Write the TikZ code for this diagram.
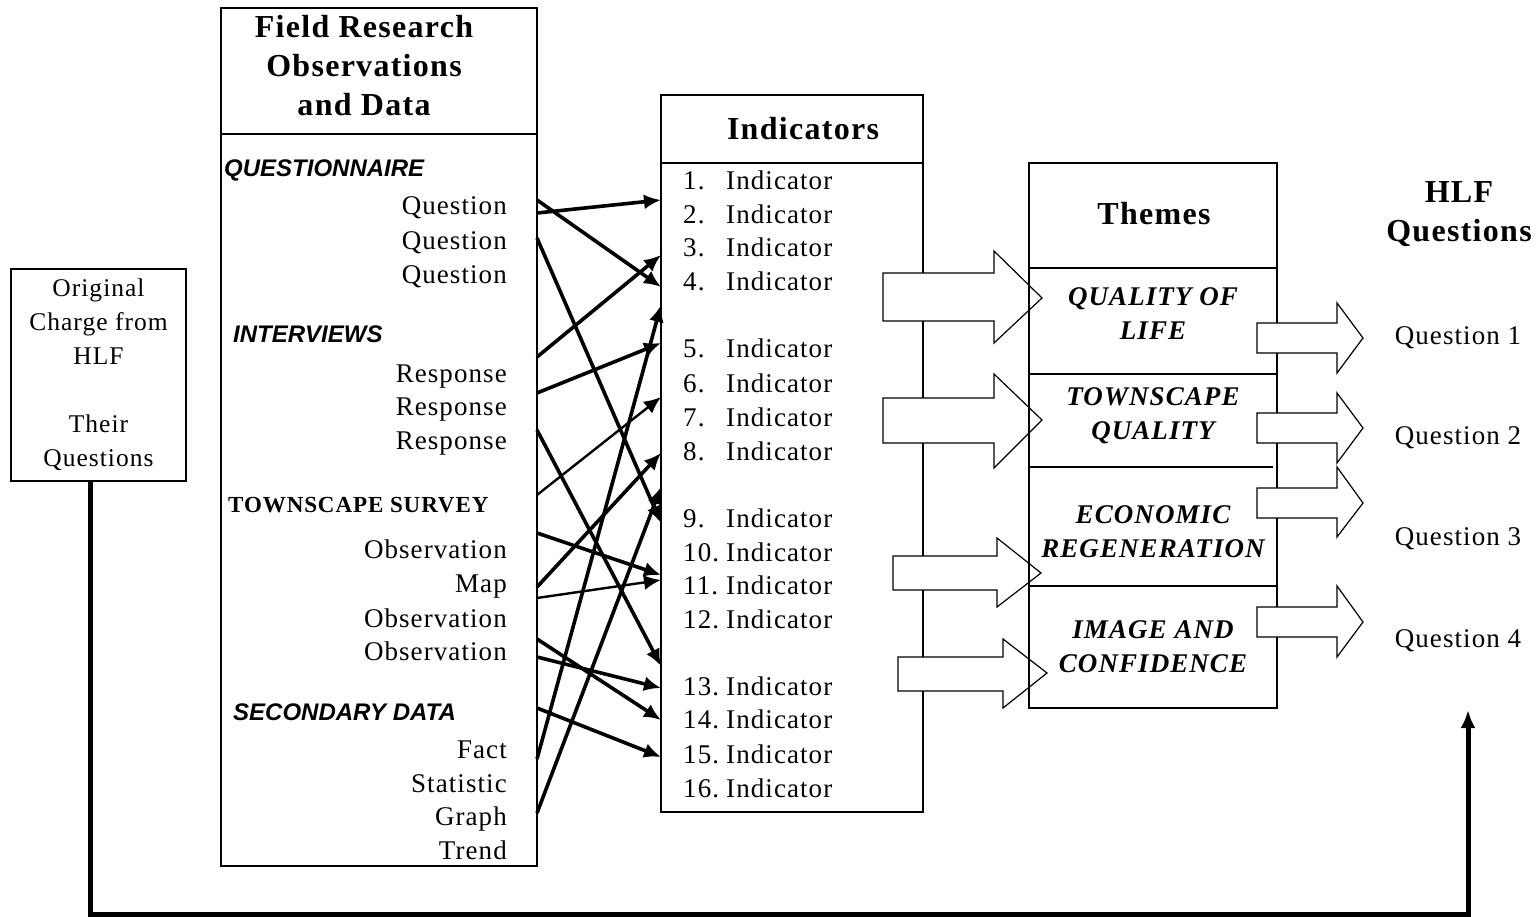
\documentclass[tikz,border=0pt]{standalone}
\usepackage{fontspec}
\setmainfont{Liberation Serif}[LetterSpace=4]
\newfontfamily\headfont{Liberation Sans}
\usetikzlibrary{arrows.meta}

\newcommand{\bodysize}{\fontsize{27}{34}\selectfont}
\newcommand{\origsize}{\fontsize{25.5}{34}\selectfont}
\newcommand{\titlesize}{\fontsize{32}{39}\selectfont\bfseries}
\newcommand{\sectsize}{\headfont\fontsize{24}{28}\selectfont\bfseries\itshape}
\newcommand{\themesize}{\fontsize{27}{34}\selectfont\bfseries\itshape}

\tikzstyle{panel}=[draw,black,line width=1.3pt,inner sep=0pt]
\tikzstyle{rule}=[black,line width=1.3pt]
\tikzstyle{headtext}=[font=\titlesize,align=center,inner sep=0pt]
\tikzstyle{heading}=[font=\sectsize,anchor=base west,inner sep=0pt]
\tikzstyle{entry}=[font=\bodysize,anchor=base east,inner sep=0pt]
\tikzstyle{indic}=[font=\bodysize,anchor=base west,inner sep=0pt]
\tikzstyle{theme}=[font=\themesize,align=center,inner sep=0pt]
\tikzstyle{link}=[line width=3.6pt,-{Latex[length=17pt,width=15pt]}]
\tikzstyle{block}=[draw,black,line width=1.2pt,fill=white]
\tikzstyle{feedback}=[line width=5pt,-{Latex[length=18pt,width=15pt]}]

\begin{document}
\begin{tikzpicture}[x=1pt,y=-1pt]
    \useasboundingbox (0,0) rectangle (1537,917);

    % boxes
    \node (orig)[panel,minimum width=175pt,minimum height=212pt,align=center,font=\origsize] at (98.5,375) {Original\\Charge from\\HLF\\[34pt]Their\\Questions};
    \node (fbox)[panel,minimum width=316pt,minimum height=858pt] at (379,437) {};
    \node (ibox)[panel,minimum width=262pt,minimum height=717pt] at (792,453.5) {};
    \draw[rule] (221,134) -- (537,134);
    \draw[rule] (661,163) -- (923,163);

    % field research column
    \node (ftitle)[headtext] at (364,66) {Field Research\\Observations\\and Data};
    \node (quest)[heading] at (224,177) {QUESTIONNAIRE};
    \node (q1)[entry] at (507,215) {Question};
    \node (q2)[entry] at (507,250) {Question};
    \node (q3)[entry] at (507,284) {Question};
    \node (interv)[heading] at (233,343) {INTERVIEWS};
    \node (r1)[entry] at (507,382) {Response};
    \node (r2)[entry] at (507,415) {Response};
    \node (r3)[entry] at (507,449) {Response};
    \node (survey)[anchor=base west,inner sep=0pt,font=\fontsize{23}{28}\selectfont\bfseries] at (228,512) {TOWNSCAPE SURVEY};
    \node (o1)[entry] at (507,558) {Observation};
    \node (map)[entry] at (507,592) {Map};
    \node (o2)[entry] at (507,627) {Observation};
    \node (o3)[entry] at (507,660) {Observation};
    \node (second)[heading] at (233,720) {SECONDARY DATA};
    \node (fact)[entry] at (507,758) {Fact};
    \node (stat)[entry] at (507,792) {Statistic};
    \node (graph)[entry] at (507,825) {Graph};
    \node (trend)[entry] at (507,859) {Trend};

    % indicators column
    \node (ititle)[headtext] at (803,129) {Indicators};
    \node (ind1)[indic] at (683,190) {\makebox[43pt][l]{1.}Indicator};
    \node (ind2)[indic] at (683,224) {\makebox[43pt][l]{2.}Indicator};
    \node (ind3)[indic] at (683,257) {\makebox[43pt][l]{3.}Indicator};
    \node (ind4)[indic] at (683,291) {\makebox[43pt][l]{4.}Indicator};
    \node (ind5)[indic] at (683,358) {\makebox[43pt][l]{5.}Indicator};
    \node (ind6)[indic] at (683,392) {\makebox[43pt][l]{6.}Indicator};
    \node (ind7)[indic] at (683,426) {\makebox[43pt][l]{7.}Indicator};
    \node (ind8)[indic] at (683,460) {\makebox[43pt][l]{8.}Indicator};
    \node (ind9)[indic] at (683,527) {\makebox[43pt][l]{9.}Indicator};
    \node (ind10)[indic] at (683,561) {\makebox[43pt][l]{10.}Indicator};
    \node (ind11)[indic] at (683,594) {\makebox[43pt][l]{11.}Indicator};
    \node (ind12)[indic] at (683,628) {\makebox[43pt][l]{12.}Indicator};
    \node (ind13)[indic] at (683,695) {\makebox[43pt][l]{13.}Indicator};
    \node (ind14)[indic] at (683,728) {\makebox[43pt][l]{14.}Indicator};
    \node (ind15)[indic] at (683,763) {\makebox[43pt][l]{15.}Indicator};
    \node (ind16)[indic] at (683,797) {\makebox[43pt][l]{16.}Indicator};

    % arrow ends
    \coordinate (s1) at (537,200);  \coordinate (e1) at (661,287);
    \coordinate (s2) at (537,213);  \coordinate (e2) at (661,200);
    \coordinate (s3) at (537,238);  \coordinate (e3) at (661,523);
    \coordinate (s4) at (537,357);  \coordinate (e4) at (661,255);
    \coordinate (s5) at (537,393);  \coordinate (e5) at (661,343);
    \coordinate (s6) at (537,430);  \coordinate (e6) at (661,666);
    \coordinate (s7) at (537,495);  \coordinate (e7) at (661,397);
    \coordinate (s8) at (537,533);  \coordinate (e8) at (661,575);
    \coordinate (s9) at (537,587);  \coordinate (e9) at (661,453);
    \coordinate (s10) at (537,598); \coordinate (e10) at (661,580);
    \coordinate (s11) at (537,639); \coordinate (e11) at (661,720);
    \coordinate (s12) at (537,657); \coordinate (e12) at (661,688);
    \coordinate (s13) at (537,708); \coordinate (e13) at (661,757);
    \coordinate (s14) at (537,759); \coordinate (e14) at (661,305);
    \coordinate (s15) at (537,813); \coordinate (e15) at (661,487);

    \draw[link] (s1) -- (e1);
    \draw[link] (s2) -- (e2);
    \draw[link] (s3) -- (e3);
    \draw[link] (s4) -- (e4);
    \draw[link] (s5) -- (e5);
    \draw[link] (s6) -- (e6);
    \draw[link,line width=2.4pt] (s7) -- (e7);
    \draw[link] (s8) -- (e8);
    \draw[link] (s9) -- (e9);
    \draw[link,line width=2.4pt] (s10) -- (e10);
    \draw[link] (s11) -- (e11);
    \draw[link] (s12) -- (e12);
    \draw[link] (s13) -- (e13);
    \draw[link] (s14) -- (e14);
    \draw[link] (s15) -- (e15);

    % block arrows into themes
    \draw[block] (883,273) -- (994,273) -- (994,251) -- (1042,298) -- (994,343) -- (994,321) -- (883,321) -- cycle;
    \draw[block] (883,398) -- (994,398) -- (994,374) -- (1042,420) -- (994,468) -- (994,443) -- (883,443) -- cycle;
    \draw[block] (893,556) -- (997,556) -- (997,538) -- (1041,573) -- (997,607) -- (997,590) -- (893,590) -- cycle;
    \draw[block] (898,657) -- (1003,657) -- (1003,639) -- (1047,673) -- (1003,708) -- (1003,691) -- (898,691) -- cycle;

    % themes column
    \node (tbox)[panel,minimum width=248pt,minimum height=545pt] at (1153,435.5) {};
    \draw[rule] (1029,268) -- (1277,268);
    \draw[rule] (1029,374) -- (1277,374);
    \draw[rule] (1029,467) -- (1273,467);
    \draw[rule] (1029,586) -- (1277,586);
    \node (ttitle)[headtext] at (1154,214) {Themes};
    \node (qol)[theme] at (1153,314) {QUALITY OF\\LIFE};
    \node (tsq)[theme] at (1153,415.5) {TOWNSCAPE\\QUALITY};
    \node (eco)[theme] at (1153,531.5) {ECONOMIC\\REGENERATION};
    \node (img)[theme] at (1153,647) {IMAGE AND\\CONFIDENCE};

    % block arrows to questions
    \draw[block] (1257,323) -- (1337,323) -- (1337,303) -- (1363,338) -- (1337,373) -- (1337,353) -- (1257,353) -- cycle;
    \draw[block] (1257,413) -- (1337,413) -- (1337,393) -- (1363,428) -- (1337,463) -- (1337,443) -- (1257,443) -- cycle;
    \draw[block] (1257,488) -- (1337,488) -- (1337,467) -- (1363,503) -- (1337,537) -- (1337,518) -- (1257,518) -- cycle;
    \draw[block] (1257,607) -- (1337,607) -- (1337,586) -- (1363,622) -- (1337,657) -- (1337,637) -- (1257,637) -- cycle;

    % HLF questions
    \node (htitle)[headtext] at (1459,214) {HLF\\Questions};
    \node (hq1)[font=\bodysize,inner sep=0pt] at (1458,338) {Question 1};
    \node (hq2)[font=\bodysize,inner sep=0pt] at (1458,438) {Question 2};
    \node (hq3)[font=\bodysize,inner sep=0pt] at (1458,539) {Question 3};
    \node (hq4)[font=\bodysize,inner sep=0pt] at (1458,641) {Question 4};
    \coordinate (hlfin) at (1468,710);

    \draw[feedback] ([xshift=-8pt]orig.south) -- ++(0,433) -| (hlfin);
\end{tikzpicture}
\end{document}
